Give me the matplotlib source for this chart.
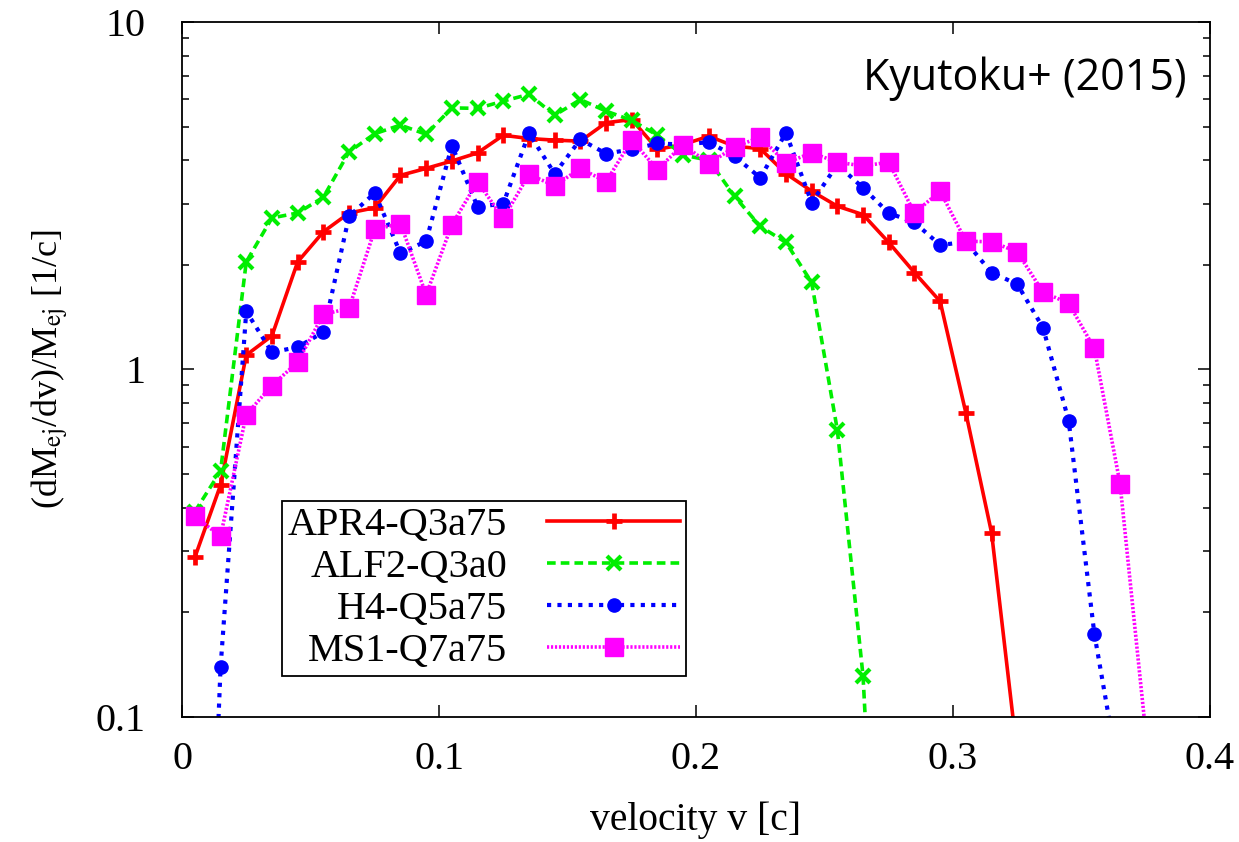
import matplotlib
matplotlib.use('Agg')
import matplotlib.pyplot as plt
import matplotlib.ticker as mt
import numpy as np

# velocity bins [c]
v = [0.005, 0.015, 0.025, 0.035, 0.045, 0.055, 0.065, 0.075, 0.085, 0.095,
     0.105, 0.115, 0.125, 0.135, 0.145, 0.155, 0.165, 0.175, 0.185, 0.195,
     0.205, 0.215, 0.225, 0.235, 0.245, 0.255, 0.265, 0.275, 0.285, 0.295,
     0.305, 0.315, 0.325, 0.335, 0.345, 0.355, 0.365, 0.375, 0.385]

apr4 = [0.288, 0.465, 1.10, 1.25, 2.04, 2.49, 2.82, 2.92, 3.62, 3.79,
        3.98, 4.20, 4.72, 4.62, 4.57, 4.54, 5.13, 5.24, 4.30, 4.44,
        4.69, 4.39, 4.32, 3.66, 3.26, 2.95, 2.79, 2.32, 1.90, 1.57,
        0.750, 0.339, 0.078]
alf2 = [0.39, 0.51, 2.04, 2.73, 2.82, 3.13, 4.23, 4.77, 5.05, 4.75,
        5.66, 5.64, 5.92, 6.19, 5.39, 5.98, 5.54, 5.21, 4.72, 4.14,
        4.0, 3.15, 2.58, 2.32, 1.78, 0.669, 0.131, 0.005]
h4 = [0.002, 0.139, 1.47, 1.12, 1.16, 1.28, 2.76, 3.22, 2.16, 2.34,
      4.41, 2.94, 3.00, 4.78, 3.66, 4.59, 4.18, 4.30, 4.47, 4.44,
      4.51, 4.11, 3.56, 4.80, 3.02, 3.89, 3.33, 2.82, 2.65, 2.28,
      2.33, 1.90, 1.76, 1.32, 0.713, 0.1735, 0.065]
ms1 = [0.378, 0.331, 0.742, 0.899, 1.05, 1.44, 1.50, 2.53, 2.63, 1.64,
       2.61, 3.47, 2.72, 3.64, 3.38, 3.79, 3.47, 4.57, 3.76, 4.44,
       3.91, 4.37, 4.66, 3.93, 4.20, 3.95, 3.85, 3.95, 2.82, 3.26,
       2.34, 2.33, 2.18, 1.67, 1.55, 1.15, 0.469, 0.09, 0.01]

labels = ['APR4-Q3a75', 'ALF2-Q3a0', 'H4-Q5a75', 'MS1-Q7a75']

plt.rcParams['font.family'] = ['Liberation Serif', 'DejaVu Serif']
plt.rcParams['mathtext.fontset'] = 'stix'

fig = plt.figure(figsize=(12.39, 8.42), dpi=100)
ax = fig.add_axes([0.1469, 0.1485, 0.9766 - 0.1469, 0.9739 - 0.1485])

ax.plot(v[:len(apr4)], apr4, color='#ff0000', lw=2.6, ls='-',
        marker='+', ms=12, mew=3.4, label=labels[0])
ax.plot(v[:len(alf2)], alf2, color='#00ee00', lw=2.6, dashes=(2.4, 1.4),
        marker='x', ms=10, mew=3, label=labels[1])
ax.plot(v[:len(h4)], h4, color='#0000ff', lw=3, dashes=(1, 1.5),
        marker='o', ms=9.5, label=labels[2])
ax.plot(v[:len(ms1)], ms1, color='#ff00ff', lw=2.6, dashes=(0.6, 0.5),
        marker='s', ms=12.5, label=labels[3])

ax.set_yscale('log')
ax.set_xlim(0, 0.4)
ax.set_ylim(0.1, 10)
ax.set_xticks([0, 0.1, 0.2, 0.3, 0.4])
ax.xaxis.set_major_formatter(mt.FuncFormatter(lambda x, p: '%g' % x))
ax.yaxis.set_major_formatter(mt.FuncFormatter(lambda y, p: '%g' % y))
ax.yaxis.set_minor_locator(mt.LogLocator(base=10, subs=np.arange(2, 10)))
ax.yaxis.set_minor_formatter(mt.NullFormatter())

ax.tick_params(which='both', direction='in', top=True, right=True,
               width=1.1, labelsize=29)
ax.tick_params(axis='x', pad=17)
ax.tick_params(axis='y', pad=26)
ax.tick_params(which='major', length=8.5)
ax.tick_params(which='minor', length=5)
for s in ax.spines.values():
    s.set_linewidth(1.3)

ax.set_xlabel('velocity v [c]', fontsize=28.5, labelpad=17)
ax.set_ylabel(r'(dM$_{\rm ej}$/dv)/M$_{\rm ej}$ [1/c]', fontsize=26, labelpad=18)

leg = ax.legend(loc='lower left', bbox_to_anchor=(0.097, 0.059), markerfirst=False,
                fontsize=29, handlelength=3.3, handletextpad=1.0,
                labelspacing=0.12, borderpad=0.15, borderaxespad=0,
                fancybox=False, edgecolor='black', framealpha=1)
leg.get_frame().set_linewidth(1.3)
for col in leg._legend_box._children[1]._children:
    col.align = 'right'

ax.text(0.9776, 0.918, 'Kyutoku+ (2015)', transform=ax.transAxes,
        ha='right', va='center', fontsize=31, family=['Open Sans', 'DejaVu Sans'])

fig.savefig('out.png', dpi=100)
